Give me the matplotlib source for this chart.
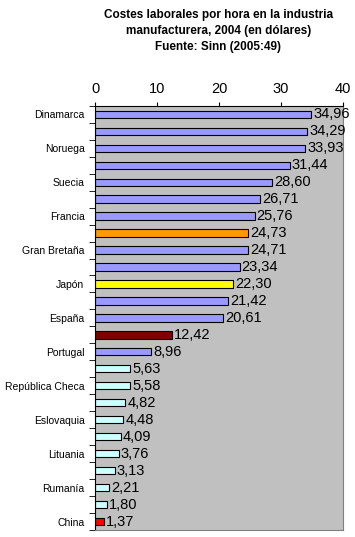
import matplotlib
matplotlib.use("Agg")
import matplotlib.pyplot as plt
import numpy as np

plt.rcParams['font.family'] = ['Liberation Sans', 'DejaVu Sans']

# data, top to bottom (only every other country name is shown in the original)
paises = ['Dinamarca', '', 'Noruega', '', 'Suecia', '', 'Francia', '',
          'Gran Bretaña', '', 'Japón', '', 'España', '', 'Portugal', '',
          'República Checa', '', 'Eslovaquia', '', 'Lituania', '', 'Rumanía', '',
          'China']
costes = [34.96, 34.29, 33.93, 31.44, 28.60, 26.71, 25.76, 24.73, 24.71,
          23.34, 22.30, 21.42, 20.61, 12.42, 8.96, 5.63, 5.58, 4.82, 4.48,
          4.09, 3.76, 3.13, 2.21, 1.80, 1.37]
colores = ['#9999FF'] * 7 + ['#FF9900', '#9999FF', '#9999FF', '#FFFF00',
           '#9999FF', '#9999FF', '#800000', '#9999FF'] + ['#CCFFFF'] * 9 + ['#FF0000']
xticks = [0, 10, 20, 30, 40]

fig = plt.figure(figsize=(3.55, 5.37), dpi=100)
ax = fig.add_axes([0.269, 0.013, 0.696, 0.79])
ax.set_facecolor('#C0C0C0')

y = np.arange(len(costes))
ax.barh(y, costes, height=0.43, color=colores, edgecolor='black', linewidth=0.8)

for yi, v in zip(y, costes):
    ax.annotate(('%.2f' % v).replace('.', ','), (v, yi), xytext=(1.5, 0),
                textcoords='offset points', va='center', ha='left', fontsize=10.5)

ax.set_xlim(0, 40)
ax.set_ylim(len(costes) - 0.5, -0.5)
ax.xaxis.tick_top()
ax.set_xticks(xticks)
ax.tick_params(axis='x', direction='out', length=3, labelsize=10.5, pad=4)

ax.set_yticks(y)
ax.set_yticklabels(paises, fontsize=7.5)
ax.tick_params(axis='y', which='major', length=0, pad=8)
ax.set_yticks(np.arange(len(costes) + 1) - 0.5, minor=True)
ax.tick_params(axis='y', which='minor', direction='out', length=4)

ax.spines['left'].set_color('black')
ax.spines['top'].set_color('black')
ax.spines['right'].set_color('#808080')
ax.spines['bottom'].set_color('#808080')

fig.text(0.615, 0.984, 'Costes laborales por hora en la industria\n'
         'manufacturera, 2004 (en dólares)\nFuente: Sinn (2005:49)',
         ha='center', va='top', fontsize=8.5, fontweight='bold', linespacing=1.45)

fig.savefig('out.png', dpi=100)
